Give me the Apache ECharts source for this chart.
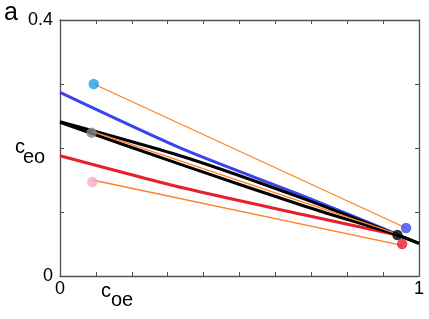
<!DOCTYPE html>
<html>
<head>
<meta charset="utf-8">
<script src="https://cdn.jsdelivr.net/npm/echarts@6/dist/echarts.min.js"></script>
<style>html,body{margin:0;padding:0;background:#fff;}#c{width:429px;height:319px;}</style>
</head>
<body>
<div id="c"></div>
<script>
var xTickLabels = ['0', '1'];
var yTickLabels = ['0', '0.4'];
var blueLine = [[0, 0.287], [0.348, 0.197], [0.682, 0.124], [0.94, 0.065]];
var blackLine1 = [[0, 0.241], [0.348, 0.1855], [0.682, 0.120], [0.94, 0.064], [1, 0.051]];
var blackLine2 = [[0, 0.240], [0.348, 0.172], [0.682, 0.109], [0.94, 0.064], [1, 0.051]];
var redLine = [[0, 0.188], [0.348, 0.137], [0.682, 0.0953], [0.94, 0.064]];
var orangeCyan = [[0.094, 0.30], [0.964, 0.075]];
var orangeGray = [[0.09, 0.226], [0.94, 0.066]];
var orangePink = [[0.09, 0.150], [0.953, 0.048]];
var startPoints = [
  {name: 'cyan', value: [0.094, 0.30], color: '#1ba3e3'},
  {name: 'gray', value: [0.088, 0.224], color: '#858585'},
  {name: 'pink', value: [0.09, 0.147], color: '#f7a9c9'}
];
var endPoints = [
  {name: 'blue', value: [0.964, 0.075], color: '#3c4cf2'},
  {name: 'black', value: [0.94, 0.064], color: '#000000'},
  {name: 'red', value: [0.953, 0.050], color: '#e8202a'}
];

var chart = echarts.init(document.getElementById('c'));
var axisColor = '#505050';
function xAx(pos, showLabels) {
  return {
    type: 'value', position: pos, min: 0, max: 1, interval: 0.1,
    axisLine: {show: true, onZero: false, lineStyle: {color: axisColor, width: 1.3}},
    axisTick: {show: true, inside: true, length: 4, lineStyle: {color: axisColor, width: 1}},
    splitLine: {show: false},
    axisLabel: {show: showLabels, margin: 4, color: '#000', fontSize: 18, fontFamily: 'Liberation Sans',
      formatter: function (v) { if (Math.abs(v) < 1e-9) return xTickLabels[0]; if (Math.abs(v - 1) < 1e-9) return xTickLabels[1]; return ''; }}
  };
}
function yAx(pos, showLabels) {
  return {
    type: 'value', position: pos, min: 0, max: 0.4, interval: 0.1,
    axisLine: {show: true, onZero: false, lineStyle: {color: axisColor, width: 1.3}},
    axisTick: {show: true, inside: true, length: 4, lineStyle: {color: axisColor, width: 1}},
    splitLine: {show: false},
    axisLabel: {show: showLabels, margin: 7, color: '#000', fontSize: 18, fontFamily: 'Liberation Sans',
      formatter: function (v) { if (Math.abs(v) < 1e-9) return yTickLabels[0]; if (Math.abs(v - 0.4) < 1e-9) return yTickLabels[1]; return ''; }}
  };
}
function line(data, color, width, z) {
  return {type: 'line', data: data, showSymbol: false, symbol: 'none', smooth: 0.25,
    lineStyle: {color: color, width: width}, z: z, silent: true, animation: false};
}
function pts(list) {
  return {type: 'scatter', symbolSize: 10.5, z: 10, animation: false,
    data: list.map(function (p) { return {value: p.value, itemStyle: {color: p.color}}; })};
}
chart.setOption({
  animation: false,
  grid: {left: 60, right: 10, top: 20, bottom: 43},
  xAxis: [xAx('bottom', true), xAx('top', false)],
  yAxis: [yAx('left', true), yAx('right', false)],
  series: [
    line(orangeCyan, '#ff7f24', 1.3, 2),
    line(orangePink, '#ff7f24', 1.3, 2),
    line(blueLine, '#3a44ee', 3, 3),
    line(redLine, '#e8202a', 3, 3),
    line(blackLine1, '#000', 3, 4),
    line(blackLine2, '#000', 3, 4),
    line(orangeGray, '#ff7f24', 1.3, 5),
    pts(startPoints),
    pts(endPoints)
  ],
  graphic: [
    {type: 'text', left: 4, top: 1, style: {text: 'a', fontSize: 25, fontFamily: 'Liberation Sans', fill: '#000'}},
    {type: 'text', left: 15, top: 137, style: {text: 'c', fontSize: 20, fontFamily: 'Liberation Sans', fill: '#000'}},
    {type: 'text', left: 23, top: 147, style: {text: 'eo', fontSize: 20, fontFamily: 'Liberation Sans', fill: '#000'}},
    {type: 'text', left: 101, top: 281, style: {text: 'c', fontSize: 20, fontFamily: 'Liberation Sans', fill: '#000'}},
    {type: 'text', left: 111, top: 290, style: {text: 'oe', fontSize: 20, fontFamily: 'Liberation Sans', fill: '#000'}}
  ]
});
</script>
</body>
</html>
